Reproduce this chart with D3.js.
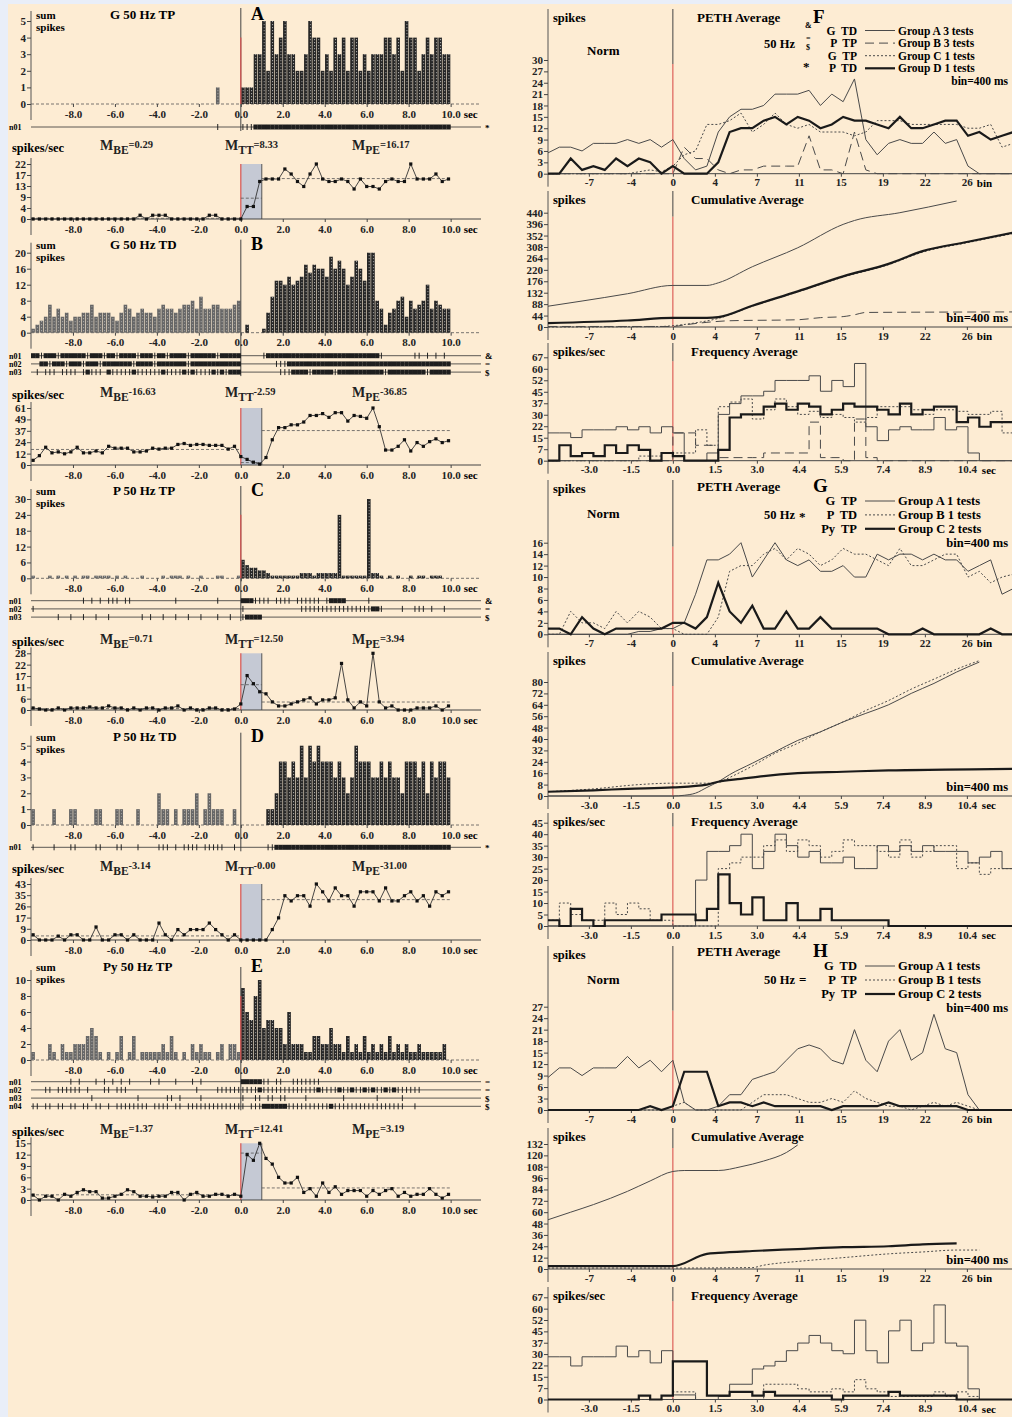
<!DOCTYPE html>
<html>
<head>
<meta charset="utf-8">
<script src="https://cdn.jsdelivr.net/npm/d3@7"></script>
<style>
  body { margin: 0; background: #e9eef8; }
  svg { display: block; font-family: "Liberation Serif", "DejaVu Serif", serif; font-weight: bold; }
</style>
</head>
<body>
<svg id="chart" width="1012" height="1417"></svg>
<script>
// ---------- left column: sum-spike histograms, 0.2 s bins from -10 s ----------
const histBin = 0.2;
const histA = [
  0,0,0,0,0,0,0,0,0,0, 0,0,0,0,0,0,0,0,0,0, 0,0,0,0,0,0,0,0,0,0, 0,0,0,0,0,0,0,0,0,0,
  0,0,0,0,1,0,0,0,0,0,
  1,1,1,3,3,5,2,5,3,4, 5,3,3,2,2,3,5,4,4,2, 3,2,4,3,4,2,4,4,2,3, 2,3,3,3,4,4,3,4,2,5,
  4,4,2,3,4,3,4,4,3,3];
const histB = [
  1,2,3,4,7,4,6,4,5,3, 4,4,5,5,7,4,5,5,5,4, 3,5,7,6,4,5,6,5,5,4, 6,7,6,6,5,6,7,7,8,6,
  9,6,6,7,7,6,6,6,7,8,
  0,2,0,0,0,1,5,9,13,13, 12,14,12,13,14,17,15,17,16,16, 14,19,16,18,16,12,14,18,16,13,
  20,20,8,6,2,5,6,8,9,4, 8,6,7,8,12,6,8,7,6,6];
const histC = [
  1,0,0,0,1,0,1,0,1,0, 1,0,1,1,0,1,1,1,1,0, 1,0,1,0,0,0,1,0,0,0, 0,1,0,1,1,1,0,1,0,0,
  1,0,0,0,1,1,0,0,0,1,
  7,5,4,4,3,3,2,1,1,1, 1,1,1,1,2,2,2,1,2,2, 2,2,2,24,1,1,1,1,1,1, 30,2,2,1,0,1,0,1,0,0,
  1,0,1,1,0,1,1,1,0,0];
const histD = [
  1,0,0,0,0,1,0,0,0,1, 1,0,0,0,0,1,1,0,0,0, 1,1,0,0,0,1,0,0,0,0, 2,1,1,0,1,0,1,1,1,2,
  0,1,2,1,1,1,0,0,1,0,
  0,0,0,0,0,0,1,1,2,4, 4,3,4,3,5,3,5,4,5,4, 4,4,3,4,3,2,3,5,4,4, 4,3,3,4,3,4,3,3,2,4,
  4,4,3,4,2,4,3,4,4,3];
const histE = [
  1,0,0,0,2,1,0,2,1,1, 2,2,2,3,4,3,1,0,1,0, 1,3,0,1,3,0,1,1,1,1, 1,2,1,3,1,0,1,0,2,1,
  2,1,1,0,1,2,0,2,2,1,
  9,6,5,8,10,4,5,5,4,4, 2,6,2,2,2,1,1,3,3,2, 2,4,2,2,1,3,1,2,1,3, 1,2,1,2,1,3,1,2,1,2,
  1,1,2,1,1,1,1,1,2,0];

// raster rows, one char per 0.2 s bin: 0 none, 1 single spike, 2 dense
const rastersA = ["0000000000 0000000000 0000000000 0000000000 0000100000 1112222222 2222222222 2222222222 2222222222 2222222222"];
const rastersB = [
  "2212221222 2221222122 1222212221 2212222122 2222122222 0000012222 2222222222 2222222222 2221000000 0110101010",
  "0022122212 2212221222 2222122221 2222222122 2222222222 0000000011 1222222222 2222222222 2222222222 2222222222",
  "0101110111 1012111021 1111211111 1211112121 1112121222 0000000001 1122221222 2212222222 2222122222 2222122222"];
const rastersC = [
  "0000000000 0010101011 1011000000 0000100000 0000100000 2221111011 1101111110 1222200000 1000000000 0000000000",
  "1000000000 0000000000 0000000000 0000000000 0000000000 1000000000 0000111111 1111111111 1221000010 0111010010",
  "0000001001 0010010010 0000001010 0100100100 1000100100 1222200000 0000000000 0000000000 0000000000 0000000000"];
const rastersD = ["1000010001 1000011000 1100010000 1110101111 0111110010 0000001122 2222222222 2222222222 2222222222 2222222222"];
const rastersE = [
  "0000000001 0100010101 0101000010 1000100010 1000000000 2222211011 0011111110 0000000000 0000000000 0000000000",
  "0001101111 1101000110 1110000000 0000000001 0000111111 1111211111 1111111121 1112112112 1211212111 1110000000",
  "0000000000 0000100000 0000010000 0011010000 1000000000 1001101101 1000010000 0000100000 0010000010 0000000000",
  "1101101101 1011011010 1111111101 1110110111 1111111111 1011122222 2111111111 1211111111 1111111110 0100000000"];

// firing rate, points every 0.3 s from -9.9 s
const rateStart = -9.9, rateStep = 0.3;
const rateA = [0,0,0,0,0,0,0,0,0,0, 0,0,0,0,0,0,0,1.5,0,1.5, 1.5,1.5,0,0,0,0,0,0,1.5,1.5, 0,0,0,
  0,5,5,15,16,16,16,20,18,15,13,18,22,16,15,15,16,15,12,16,13,13,12,15,16,15,15,22,16,16,16,18,15,16];
const rateB = [5,10,19,13,14,12,14,19,13,13,15,13,20,18,18,18,14,14,15,18,17,18,18,22,23,21,22,22,21,21,21,17,20,
  9,6,3,1,8,27,40,40,43,43,46,53,53,55,51,56,56,47,53,52,50,61,41,16,16,20,27,15,24,20,25,28,24,26];
const rateC = [1,0.5,0,0,1,0,1,1,1,1.5,1,1,2,1,1,0,1,0,1,1,0,1,1,2,0,1,0,0,1,1,0,0,0.5,
  3,17,13,9,8,4,2,2,3,4,5,6,3,5,5,6,23,5,1,4,2,28,4,1,2,0,0,0,1,1,1,2,0,2];
const rateD = [4,0,0,0,3,0,4,4,0,0,10,0,0,4,4,0,4,0,0,0,13,4,0,8,4,8,8,8,13,8,4,0,4,
  0,0,0,0,0,8,17,34,30,34,34,26,43,37,30,40,34,34,26,37,37,37,30,40,30,30,34,37,30,34,26,37,34,37];
const rateE = [1.3,0,1,1,0,1.5,1,2,2.7,2.2,2.2,0.5,0.5,1,1.5,2.7,2.2,1,1,0.8,1,1,2,2,0,1.5,2,1,1,1.5,1.5,1,1.5,
  1,12,10.5,15,11,9.5,6,4.5,4.5,6,2,3,1,4.5,2,3.5,1.5,2.5,2.5,2.5,1,2.5,1.5,2.5,3,1,2,1,1.5,1.5,3,1.5,0.5,1.5];

// means: baseline, test train (0-1 s), post
const meansA = [0.29, 8.33, 16.17];
const meansB = [16.63, 2.59, 36.85];
const meansC = [0.71, 12.50, 3.94];
const meansD = [3.14, 0.00, 31.00];
const meansE = [1.37, 12.41, 3.19];

const secTicks = [-8, -6, -4, -2, 0, 2, 4, 6, 8, 10];

// ---------- right column: averages, 0.4 s bins ----------
// PETH values at bins -11..30
const pethF_A = [5.5,7,7,6,8,8,8,9,8,9,7,9, 4,1,2,11,15,17,17,18,21,21, 21,22,18,21,19,25,9,5,8,9, 8,8,11,8,9,2,0,0,0,0];
const pethF_B = [0,0,0,0,0,0,0,0,0,0,0,0, 7,4,4,1,0,1,1,2,2,2, 2,10,1,1,0,11,1,0,0,0, 0,0,0,0,0,0,0,0,0,0];
const pethF_C = [0,0,0,0,0,0,0,0,0.5,1,0.5,2, 5,6,13,13,14,16,11,13,16,13, 12,13,11,11,11,10,11,14,14,14, 13,13,13,13,13,12,12,13,7,8];
const pethF_D = [0,0,4,1,2,1,4,2,4,3,0,2, 0,0,0,3,11,12,12,14,15,13, 15,14,12,13,15,14,14,13,12,15, 12,12,13,14,14,10,11,9,10,11];
const pethG_A = [0,0,0,0,0,0,0,0,0.5,0.5,1,1, 2,7,13,13,14,16,10,13,16,13, 12,13,11,11,12,10,10,14,13,14, 14,13,14,13,13,11,12,13,7,8];
const pethG_B = [0,0,4,2,2,1,4,2,4,3,1,1, 0,0,0,3,11,12,12,14,15,13, 15,14,12,13,15,14,14,13,12,15, 12,12,13,14,14,10,11,9,10,10.5];
const pethG_C = [1,1,0,3,1,0,1,1,1,1,1,2, 2,1,3,9,4,2,5,1,1,4, 1,1,3,1,1,1,1,1,0,0, 0,1,0,0,0,0,0,1,0,0];
const pethH_A = [8.5,11,11,9,11,11,11,14,11,13,10,13, 2,0,0,1,4,4,8,9,10,13, 16,17,16,13,12,21,13,10,18,21, 13,15,25,16,15,4,0,null,null,null];
const pethH_B = [0,0,0,0,0,0,0,0,0,0,0,1, 2,0,0,0,0,0,2,4,4,4, 3,2,2,3,2,5,3,2,1,1, 0,1,2,1,2,1,0,null,null,null];
const pethH_C = [0,0,0,0,0,0,0,0,0,1,0,1, 10,10,10,1,2,2,1,2,1,1, 1,1,1,0,1,1,1,1,2,1, 1,1,1,1,1,0,0,0,0,0];

// cumulative averages, [bin, spikes]
const cumF_A = [[-11,80],[-8,100],[-4,128],[0,160],[3,160],[4,170],[7,232],[11,305],[15,395],[16,410],[20,440],[25,485]];
const cumF_B = [[-11,2],[0,2],[1,8],[3,18],[5,24],[11,28],[13,36],[15,40],[16,47],[17,56],[30,58]];
const cumF_C = [[-11,0],[-1,2],[0,5],[2,16],[4,33],[7,80],[11,135],[15,192],[19,240],[22,288],[26,325],[30,360]];
const cumF_D = [[-11,15],[-4,25],[0,35],[3,35],[4,38],[7,82],[11,137],[15,195],[19,243],[22,292],[26,328],[30,363]];
const cumG_A = [[-11,0],[0,0],[1,0.5],[2,2],[3,6],[4,10],[5,15],[7,23],[9,31],[11,39],[13,45],[15,52],[17,58],[19,64],[21,72],[23,79],[25,87],[27,94]];
const cumG_B = [[-11,3],[-7,5],[-3,8],[0,9],[3,9],[4,9.5],[5,13],[7,21],[9,30],[11,37],[13,45],[15,52],[17,60],[19,67],[21,75],[23,82],[25,89],[27,95]];
const cumG_C = [[-11,3],[-7,4],[-4,5],[0,6],[3,8],[4,10],[6,12],[8,14],[11,16],[15,17],[19,18],[24,18.5],[30,19]];
const cumH_A = [[-11,52],[-9,60],[-7,68],[-4,82],[-2,93],[0,103],[1,104],[4,104],[6,108],[8,114],[10,123],[11,131]];
const cumH_B = [[-11,1],[0,1],[7,1.5],[8,4],[11,8],[15,12],[19,16],[22,18],[25,20],[27,20]];
const cumH_C = [[-11,3],[0,3],[3,16],[4,17],[7,19],[11,21],[15,23],[19,24],[22,26],[25,27]];

// frequency averages, spikes/sec in 0.4 s steps from -4.4 s
const freqF_A = [18,18,15,20,20,20,22,20,22,18,22, 18,0,0,5,30,37,42,42,45,52, 52,52,55,45,52,48,63,22,13,20, 22,20,20,28,20,22,5,0,0,0];
const freqF_B = [0,0,0,0,0,0,0,0,0,0,0, 18,18,10,10,2,2,2,2,5,5, 5,5,25,2,2,0,27,2,0,0, 0,0,0,0,0,0,0,0,0,0];
const freqF_C = [0,0,0,0,0,0,0,0,3,3,5, 5,5,20,10,35,38,40,27,33,40, 35,30,32,28,30,28,25,28,35,35, 35,33,30,33,33,32,30,30,32,18];
const freqF_D = [0,10,3,5,3,10,5,10,7,0,5, 3,0,0,0,7,28,30,30,35,37, 33,37,35,30,33,37,35,35,33,30, 37,30,33,35,35,25,28,22,25,25];
const freqG_A = [0,0,0,0,0,0,0,0,0,0,0, 0,0,20,32.5,32.5,35,40,25,32.5,40, 35,30,32.5,27.5,27.5,30,25,25,35,32.5, 35,32.5,35,32.5,32.5,32.5,27.5,30,32.5,25];
const freqG_B = [2.5,10,5,2.5,2.5,10,5,10,7.5,2.5,2.5, 0,0,0,0,25,27.5,30,30,35,37.5, 32.5,37.5,35,30,32.5,37.5,35,35,32.5,30, 37.5,30,32.5,35,35,25,27.5,22.5,25,25];
const freqG_C = [2.5,0,7.5,2.5,0,2.5,2.5,2.5,2.5,2.5,5, 5,5,2.5,7.5,22.5,10,5,12.5,2.5,2.5, 10,2.5,2.5,7.5,2.5,2.5,2.5,2.5,2.5,0, 0,0,0,0,0,0,0,0,0,0];
const freqH_A = [28,28,22,28,28,28,35,28,32,24,32, 3,3,0,0,2,10,10,20,22,25, 32,37,42,37,32,30,52,32,24,45, 52,32,37,62,37,35,7,0,0,0];
const freqH_B = [0,0,0,0,0,0,0,0,0,0,0, 5,5,0,0,0,0,0,0,10,10, 10,7,5,5,7,5,13,7,5,2, 2,2,2,5,2,5,2,0,0,0];
const freqH_C = [0,0,0,0,0,0,0,0,2.5,0,2.5, 25,25,25,2.5,2.5,5,5,2.5,5,2.5, 2.5,2.5,2.5,2.5,0,2.5,2.5,2.5,2.5,5, 2.5,2.5,2.5,2.5,2.5,0,0,0,0,0];

const binTickPos = [-7.4, -3.7, 0, 3.7, 7.4, 11.1, 14.8, 18.5, 22.2, 25.9];
const binTickLabels = ["-7", "-4", "0", "4", "7", "11", "15", "19", "22", "26"];
const secTickLabels = ["-3.0", "-1.5", "0.0", "1.5", "3.0", "4.4", "5.9", "7.4", "8.9", "10.4"];
const freqTickLabels = ["0", "7", "15", "22", "30", "37", "45", "52", "60", "67"];

// ---------- drawing ----------
const W = 1012, H = 1417;
const svg = d3.select("#chart");
svg.append("rect").attr("width", W).attr("height", H).attr("fill", "#e9eef8");
svg.append("rect").attr("x", 8).attr("y", 4).attr("width", W - 8).attr("height", H - 4).attr("fill", "#fdecd3");

const defs = svg.append("defs");
function barPattern(id, bg) {
  const p = defs.append("pattern").attr("id", id).attr("patternUnits", "userSpaceOnUse")
    .attr("x", 31).attr("y", 0).attr("width", 4.2).attr("height", 3);
  p.append("rect").attr("width", 4.2).attr("height", 3).attr("fill", bg);
  p.append("rect").attr("x", 1.7).attr("width", 0.9).attr("height", 1.2).attr("fill", "#a8a8a8");
}
barPattern("texPost", "#262626");
barPattern("texPre", "#666666");

const RED = "#d9534f";
const lx = d3.scaleLinear().domain([-10, 11.4]).range([31, 480]);
const rasterGap = 8.2;

function styleAxis(a, size) {
  a.attr("font-family", null).attr("font-size", null);
  a.select(".domain").remove();
  a.selectAll(".tick line").attr("stroke", "#444");
  a.selectAll(".tick text").attr("fill", "#222")
    .style("font-size", size + "px").style("font-weight", "bold")
    .style("font-family", "'Liberation Serif', serif");
}

function hline(g, x1, x2, y, stroke, w, dash) {
  return g.append("line").attr("x1", x1).attr("x2", x2).attr("y1", y).attr("y2", y)
    .attr("stroke", stroke).attr("stroke-width", w).attr("stroke-dasharray", dash || null);
}
function vline(g, x, y1, y2, stroke, w) {
  return g.append("line").attr("x1", x).attr("x2", x).attr("y1", y1).attr("y2", y2)
    .attr("stroke", stroke).attr("stroke-width", w);
}

const leftPanels = [
  { key: "A", title: "G 50 Hz TP", titleX: 110, hist: histA, hMax: 5, hTicks: [0,1,2,3,4,5], rasters: rastersA, syms: ["*"], sec: true, red: true,
    rate: rateA, rMax: 22, rTickLabels: [0,4,9,13,17,22], means: meansA, eq: "=",
    L: { title: 19, hTop: 21, hBase: 104, rY: 127, rateLab: 152, rTop: 164, rBase: 219 } },
  { key: "B", title: "G 50 Hz TD", titleX: 110, hist: histB, hMax: 20, hTicks: [0,4,8,12,16,20], rasters: rastersB, syms: ["&","=","$"], sec: false, red: false,
    rate: rateB, rMax: 61, rTickLabels: [0,12,24,37,49,61], means: meansB, eq: "-",
    L: { title: 249, hTop: 252.7, hBase: 332.7, rY: 355.7, rateLab: 399, rTop: 408, rBase: 465 } },
  { key: "C", title: "P 50 Hz TP", titleX: 113, hist: histC, hMax: 30, hTicks: [0,6,12,18,24,30], rasters: rastersC, syms: ["&","=","$"], sec: true, red: true,
    rate: rateC, rMax: 28, rTickLabels: [0,6,11,17,22,28], means: meansC, eq: "=",
    L: { title: 495, hTop: 499, hBase: 578.3, rY: 600.7, rateLab: 646, rTop: 653.3, rBase: 710 } },
  { key: "D", title: "P 50 Hz TD", titleX: 113, hist: histD, hMax: 5, hTicks: [0,1,2,3,4,5], rasters: rastersD, syms: ["*"], sec: true, red: false,
    rate: rateD, rMax: 43, rTickLabels: [0,9,17,26,35,43], means: meansD, eq: "-",
    L: { title: 741, hTop: 745.7, hBase: 825, rY: 847.3, rateLab: 873, rTop: 884, rBase: 940 } },
  { key: "E", title: "Py 50 Hz TP", titleX: 103, hist: histE, hMax: 10, hTicks: [0,2,4,6,8,10], rasters: rastersE, syms: ["=","=","$","$"], sec: true, red: true,
    rate: rateE, rMax: 15, rTickLabels: [0,3,6,9,12,15], means: meansE, eq: "=",
    L: { title: 971, hTop: 980, hBase: 1060, rY: 1081.7, rateLab: 1136, rTop: 1143.3, rBase: 1200 } }
];

function mLabel(g, x, y, sub, val, eq) {
  const t = g.append("text").attr("x", x).attr("y", y).attr("fill", "#222");
  t.append("tspan").text("M").style("font-size", "14px");
  t.append("tspan").text(sub).attr("dy", 4).style("font-size", "11.5px");
  t.append("tspan").text(eq + val.toFixed(2)).attr("dy", -6).style("font-size", "10.5px");
}

function drawLeft(p) {
  const L = p.L;
  const g = svg.append("g");
  const hy = d3.scaleLinear().domain([0, p.hMax]).range([L.hBase, L.hTop]);
  const lastRaster = L.rY + (p.rasters.length - 1) * rasterGap;

  g.append("text").attr("x", 36).attr("y", L.title).attr("font-size", 11).text("sum");
  g.append("text").attr("x", 36).attr("y", L.title + 12).attr("font-size", 11).text("spikes");
  g.append("text").attr("x", p.titleX).attr("y", L.title).attr("font-size", 13).text(p.title);
  g.append("text").attr("x", 251).attr("y", L.title + 1).attr("font-size", 18).text(p.key);

  vline(g, 31, L.hTop - 10, L.hBase + 16, "#555", 1);
  hline(g, 31, 480, L.hBase, "#555", 0.8, "3,2");

  const bars = p.hist.map((v, i) => ({ t: -10 + i * histBin, v })).filter(d => d.v > 0);
  g.selectAll("rect.bar").data(bars).join("rect").attr("class", "bar")
    .attr("x", d => lx(d.t) + 0.3).attr("width", lx(histBin) - lx(0) - 0.6)
    .attr("y", d => hy(d.v)).attr("height", d => L.hBase - hy(d.v))
    .attr("fill", d => d.t < 0 ? "url(#texPre)" : "url(#texPost)");

  vline(g, lx(0), L.hTop - 13, lastRaster + 4, "#444", 1);
  if (p.red) vline(g, lx(0), L.hTop + (L.hBase - L.hTop) * 0.2, L.hBase, RED, 1.2);

  const ya = g.append("g").attr("transform", "translate(31,0)")
    .call(d3.axisLeft(hy).tickValues(p.hTicks).tickFormat(d3.format("d")).tickSize(4).tickPadding(1));
  styleAxis(ya, 11);
  const xa = g.append("g").attr("transform", `translate(0,${L.hBase})`)
    .call(d3.axisBottom(lx).tickValues(secTicks).tickFormat(d => d.toFixed(1)).tickSize(3).tickPadding(3));
  styleAxis(xa, 11);
  if (p.sec) g.append("text").attr("x", lx(10) + 13).attr("y", L.hBase + 14).attr("font-size", 11).text("sec");

  // rasters
  p.rasters.forEach((code, j) => {
    const y = L.rY + j * rasterGap;
    const cells = code.replace(/ /g, "").split("").map((c, i) => ({ c, t: -10 + i * histBin }));
    hline(g, 31, 481, y, "#333", 0.8);
    g.append("text").attr("x", 9).attr("y", y + 3).attr("font-size", 8).text("n0" + (j + 1));
    g.append("text").attr("x", 485).attr("y", y + 3.5).attr("font-size", 9).text(p.syms[j]);
    g.selectAll(null).data(cells.filter(d => d.c === "1")).join("line")
      .attr("x1", d => lx(d.t + 0.1)).attr("x2", d => lx(d.t + 0.1))
      .attr("y1", y - 3).attr("y2", y + 3).attr("stroke", "#222").attr("stroke-width", 1);
    g.selectAll(null).data(cells.filter(d => d.c === "2")).join("rect")
      .attr("x", d => lx(d.t)).attr("width", lx(histBin) - lx(0) + 0.1)
      .attr("y", y - 2.5).attr("height", 5).attr("fill", "#1e1e1e");
  });

  // rate plot
  const ry = d3.scaleLinear().domain([0, p.rMax]).range([L.rBase, L.rTop]);
  g.append("text").attr("x", 12).attr("y", L.rateLab).attr("font-size", 12.5).text("spikes/sec");
  mLabel(g, 100, L.rateLab - 2, "BE", p.means[0], p.eq);
  mLabel(g, 225, L.rateLab - 2, "TT", p.means[1], p.eq);
  mLabel(g, 352, L.rateLab - 2, "PE", p.means[2], p.eq);

  g.append("rect").attr("x", lx(0)).attr("y", L.rTop).attr("width", lx(1) - lx(0))
    .attr("height", L.rBase - L.rTop).attr("fill", "#c5c9d4");
  vline(g, lx(1), L.rTop, L.rBase, "#555", 1);
  vline(g, lx(0), L.rTop, L.rBase, RED, 1.2);
  vline(g, 31, L.rTop - 6, L.rBase + 16, "#555", 1);
  hline(g, 31, 481, L.rBase, "#444", 1);

  const tv = p.rTickLabels.map((_, i) => p.rMax * i / (p.rTickLabels.length - 1));
  const ra = g.append("g").attr("transform", "translate(31,0)")
    .call(d3.axisLeft(ry).tickValues(tv).tickFormat((d, i) => p.rTickLabels[i]).tickSize(4).tickPadding(1));
  styleAxis(ra, 11);
  const rxa = g.append("g").attr("transform", `translate(0,${L.rBase})`)
    .call(d3.axisBottom(lx).tickValues(secTicks).tickFormat(d => d.toFixed(1)).tickSize(3).tickPadding(3));
  styleAxis(rxa, 11);
  g.append("text").attr("x", lx(10) + 13).attr("y", L.rBase + 14).attr("font-size", 11).text("sec");

  // mean lines
  const spans = [[-10, 0], [0, 1], [1, 10]];
  spans.forEach((s, i) => hline(g, lx(s[0]), lx(s[1]), ry(p.means[i]), "#555", 0.8, "3,2"));

  const pts = p.rate.map((v, k) => ({ t: rateStart + k * rateStep, v }));
  g.append("path").datum(pts).attr("fill", "none").attr("stroke", "#333").attr("stroke-width", 0.9)
    .attr("d", d3.line().x(d => lx(d.t)).y(d => ry(d.v)));
  g.selectAll("rect.pt").data(pts).join("rect").attr("class", "pt")
    .attr("x", d => lx(d.t) - 1.6).attr("y", d => ry(d.v) - 1.6).attr("width", 3.2).attr("height", 3.2)
    .attr("fill", "#111");
}
leftPanels.forEach(drawLeft);

// ---------- right column ----------
const bx = d3.scaleLinear().domain([-11, 30]).range([548, 1013.4]);
const sx = d3.scaleLinear().domain([-4.4, 12]).range([548, 1013.4]);
const styles = {
  thin: { stroke: "#4a4a4a", w: 1, dash: null },
  dash: { stroke: "#4a4a4a", w: 1, dash: "9,5" },
  dot: { stroke: "#4a4a4a", w: 1, dash: "2,2" },
  thick: { stroke: "#1a1a1a", w: 2.2, dash: null }
};
function applyStyle(sel, key) {
  const s = styles[key];
  return sel.attr("fill", "none").attr("stroke", s.stroke).attr("stroke-width", s.w)
    .attr("stroke-dasharray", s.dash);
}

function drawSub(s) {
  const g = svg.append("g");
  const y = d3.scaleLinear().domain([0, s.max]).range([s.base, s.top]);
  g.append("text").attr("x", 553).attr("y", s.labY).attr("font-size", 12.5).text(s.lab);
  if (s.title) g.append("text").attr("x", 691).attr("y", s.labY).attr("font-size", 13).text(s.title);
  vline(g, 548, s.labY - 13, s.base + 13, "#555", 1);
  hline(g, 548, 1012, s.base, "#444", 1);
  vline(g, bx(0), s.labY - 13, s.top + 4, "#444", 1);
  vline(g, bx(0), s.top + 4, s.base, RED, 1.1);

  const labels = s.tickLabels || s.ticks.map(String);
  const tv = labels.map((_, i) => s.max * i / (labels.length - 1));
  const ya = g.append("g").attr("transform", "translate(548,0)")
    .call(d3.axisLeft(y).tickValues(tv).tickFormat((d, i) => labels[i]).tickSize(4).tickPadding(1));
  styleAxis(ya, 11);
  const xa = g.append("g").attr("transform", `translate(0,${s.base})`)
    .call(d3.axisBottom(bx).tickValues(binTickPos)
      .tickFormat((d, i) => (s.axis === "bin" ? binTickLabels : secTickLabels)[i]).tickSize(3).tickPadding(2));
  styleAxis(xa, 11);
  g.append("text").attr("x", bx(25.9) + (s.axis === "bin" ? 10 : 15)).attr("y", s.base + 13)
    .attr("font-size", 11).text(s.axis === "bin" ? "bin" : "sec");
  if (s.note) g.append("text").attr("x", 1008).attr("y", s.base - 5).attr("text-anchor", "end")
    .attr("font-size", 12.5).text("bin=400 ms");

  s.series.forEach(([data, st]) => {
    let line, pts;
    if (s.kind === "peth") {
      pts = data.map((v, i) => [i - 11, v]);
      line = d3.line().defined(d => d[1] !== null).x(d => bx(d[0])).y(d => y(d[1]));
    } else if (s.kind === "cum") {
      pts = data;
      line = d3.line().curve(d3.curveMonotoneX).x(d => bx(d[0])).y(d => y(d[1]));
    } else {
      pts = data.map((v, i) => [-4.4 + 0.4 * i, v]);
      pts.push([12, data[data.length - 1]]);
      line = d3.line().curve(d3.curveStepAfter).x(d => sx(d[0])).y(d => y(d[1]));
    }
    applyStyle(g.append("path").datum(pts), st).attr("d", line);
  });
}

function drawLegend(r) {
  const g = svg.append("g");
  g.append("text").attr("x", 697).attr("y", r.titleY).attr("font-size", 13).text("PETH Average");
  g.append("text").attr("x", 813).attr("y", r.titleY + 1).attr("font-size", 19).text(r.letter);
  g.append("text").attr("x", 587).attr("y", r.normY).attr("font-size", 13).text("Norm");
  r.rows.forEach((row, i) => {
    const y = r.y0 + i * r.dy;
    g.append("text").attr("x", 857).attr("y", y).attr("text-anchor", "end").attr("font-size", r.fs)
      .attr("word-spacing", "3px").text(row.name);
    applyStyle(g.append("line").attr("x1", 865).attr("x2", 895).attr("y1", y - 4).attr("y2", y - 4), row.style);
    g.append("text").attr("x", 898).attr("y", y).attr("font-size", r.fs).text(row.group);
  });
  r.extra.forEach(e => g.append("text").attr("x", e[0]).attr("y", e[1]).attr("font-size", e[3])
    .attr("text-anchor", e[4] || "start").text(e[2]));
  g.append("text").attr("x", 1008).attr("y", r.y0 + r.rows.length * r.dy).attr("text-anchor", "end")
    .attr("font-size", r.fs).text("bin=400 ms");
}

const rightPanels = [
  { letter: "F", titleY: 22, y0: 34.5, dy: 12.6, fs: 11.5, normY: 55,
    rows: [
      { name: "G TD", style: "thin", group: "Group A 3 tests" },
      { name: "P TP", style: "dash", group: "Group B 3 tests" },
      { name: "G TP", style: "dot", group: "Group C 1 tests" },
      { name: "P TD", style: "thick", group: "Group D 1 tests" }],
    extra: [[805, 28, "&", 8], [795, 48, "50 Hz", 12.5, "end"], [806, 41, "=", 8], [806, 50, "$", 8], [803, 71, "*", 13]],
    subs: [
      { kind: "peth", lab: "spikes", labY: 22, top: 60, base: 173.7, max: 30, ticks: d3.range(0, 31, 3), axis: "bin",
        series: [[pethF_A, "thin"], [pethF_B, "dash"], [pethF_C, "dot"], [pethF_D, "thick"]] },
      { kind: "cum", lab: "spikes", title: "Cumulative Average", labY: 204, top: 212.7, base: 327, max: 440, ticks: d3.range(0, 441, 44), axis: "bin", note: true,
        series: [[cumF_A, "thin"], [cumF_B, "dash"], [cumF_C, "dot"], [cumF_D, "thick"]] },
      { kind: "freq", lab: "spikes/sec", title: "Frequency Average", labY: 356, top: 357.3, base: 460.7, max: 67, tickLabels: freqTickLabels, axis: "sec",
        series: [[freqF_A, "thin"], [freqF_B, "dash"], [freqF_C, "dot"], [freqF_D, "thick"]] }] },
  { letter: "G", titleY: 491, y0: 505, dy: 13.9, fs: 12.5, normY: 518,
    rows: [
      { name: "G TP", style: "thin", group: "Group A 1 tests" },
      { name: "P TD", style: "dot", group: "Group B 1 tests" },
      { name: "Py TP", style: "thick", group: "Group C 2 tests" }],
    extra: [[795, 519, "50 Hz", 12.5, "end"], [799, 521, "*", 13]],
    subs: [
      { kind: "peth", lab: "spikes", labY: 493, top: 542.7, base: 634.3, max: 16, ticks: d3.range(0, 17, 2), axis: "bin",
        series: [[pethG_A, "thin"], [pethG_B, "dot"], [pethG_C, "thick"]] },
      { kind: "cum", lab: "spikes", title: "Cumulative Average", labY: 665, top: 682, base: 796, max: 80, ticks: d3.range(0, 81, 8), axis: "sec", note: true,
        series: [[cumG_A, "thin"], [cumG_B, "dot"], [cumG_C, "thick"]] },
      { kind: "freq", lab: "spikes/sec", title: "Frequency Average", labY: 826, top: 822.7, base: 926, max: 45, ticks: d3.range(0, 46, 5), axis: "sec",
        series: [[freqG_A, "thin"], [freqG_B, "dot"], [freqG_C, "thick"]] }] },
  { letter: "H", titleY: 956, y0: 970, dy: 14, fs: 12.5, normY: 984,
    rows: [
      { name: "G TD", style: "thin", group: "Group A 1 tests" },
      { name: "P TP", style: "dot", group: "Group B 1 tests" },
      { name: "Py TP", style: "thick", group: "Group C 2 tests" }],
    extra: [[795, 984, "50 Hz", 12.5, "end"], [799, 984, "=", 13]],
    subs: [
      { kind: "peth", lab: "spikes", labY: 959, top: 1006.7, base: 1110, max: 27, ticks: d3.range(0, 28, 3), axis: "bin",
        series: [[pethH_A, "thin"], [pethH_B, "dot"], [pethH_C, "thick"]] },
      { kind: "cum", lab: "spikes", title: "Cumulative Average", labY: 1141, top: 1144, base: 1269, max: 132, ticks: d3.range(0, 133, 12), axis: "bin", note: true,
        series: [[cumH_A, "thin"], [cumH_B, "dot"], [cumH_C, "thick"]] },
      { kind: "freq", lab: "spikes/sec", title: "Frequency Average", labY: 1300, top: 1297.3, base: 1399.5, max: 67, tickLabels: freqTickLabels, axis: "sec",
        series: [[freqH_A, "thin"], [freqH_B, "dot"], [freqH_C, "thick"]] }] }
];

rightPanels.forEach(r => {
  r.subs.forEach(drawSub);
  drawLegend(r);
});
</script>
</body>
</html>
